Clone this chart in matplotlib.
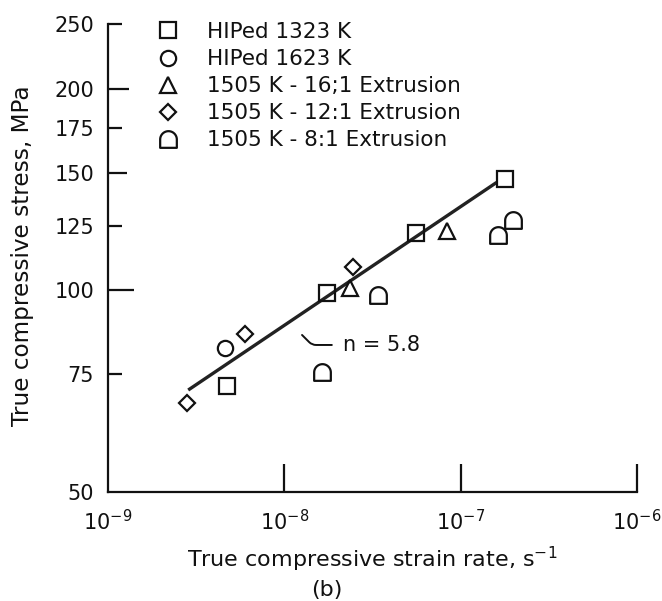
import numpy as np
import matplotlib
matplotlib.use('Agg')
import matplotlib.pyplot as plt
from matplotlib.path import Path
from matplotlib.ticker import FixedLocator, NullLocator

# data
hip1323_rate = [4.7e-9, 1.75e-8, 5.6e-8, 1.79e-7]
hip1323_stress = [72.0, 99.0, 122.0, 146.5]

hip1623_rate = [4.6e-9]
hip1623_stress = [82.0]

ext16_rate = [2.36e-8, 8.4e-8]
ext16_stress = [101.0, 122.5]

ext12_rate = [2.8e-9, 6.0e-9, 2.45e-8]
ext12_stress = [68.0, 86.0, 108.5]

ext8_rate = [1.64e-8, 3.4e-8, 1.63e-7, 1.98e-7]
ext8_stress = [75.5, 98.5, 121.0, 127.5]

fit_rate = [2.85e-9, 1.6e-7]
fit_stress = [71.0, 145.0]

ytick_vals = [50, 75, 100, 125, 150, 175, 200, 250]
xtick_vals = [1e-9, 1e-8, 1e-7, 1e-6]

plt.rcParams['font.family'] = 'DejaVu Sans'

# dome shaped marker for the 8:1 extrusion
th = np.linspace(np.pi, 0, 30)
dome_verts = [(-1, -1), (-1, 0)] + [(np.cos(t), np.sin(t)) for t in th] + [(1, -1), (-1, -1)]
dome = Path(dome_verts, closed=True)

fig = plt.figure(figsize=(6.62, 6.01), dpi=100)
ax = fig.add_axes([108/662, 109/601, 529/662, 468/601])

ink = '#111111'
mk = dict(linestyle='none', mfc='none', mec=ink, mew=1.6)

ax.plot(fit_rate, fit_stress, color='#222222', lw=2.4, solid_capstyle='butt', zorder=1)
ax.plot(hip1323_rate, hip1323_stress, marker='s', ms=11, label='HIPed 1323 K', **mk)
ax.plot(hip1623_rate, hip1623_stress, marker='o', ms=11, label='HIPed 1623 K', **mk)
ax.plot(ext16_rate, ext16_stress, marker='^', ms=11, label='1505 K - 16;1 Extrusion', **mk)
ax.plot(ext12_rate, ext12_stress, marker='D', ms=8.5, label='1505 K - 12:1 Extrusion', **mk)
ax.plot(ext8_rate, ext8_stress, marker=dome, ms=12, label='1505 K - 8:1 Extrusion', **mk)

ax.set_xscale('log')
ax.set_yscale('log')
ax.set_xlim(1e-9, 1e-6)
ax.set_ylim(50, 250)

ax.yaxis.set_major_locator(FixedLocator(ytick_vals))
ax.yaxis.set_minor_locator(NullLocator())
ax.set_yticklabels([str(v) for v in ytick_vals])
ax.xaxis.set_major_locator(FixedLocator(xtick_vals))
ax.xaxis.set_minor_locator(NullLocator())

ax.tick_params(axis='both', direction='in', width=1.6, color=ink, labelsize=15, labelcolor=ink)
ax.tick_params(axis='y', pad=10, length=10)
ax.tick_params(axis='x', pad=12, length=20)

ylens = {50: 0, 75: 10, 100: 19, 125: 10, 150: 14, 175: 10, 200: 15, 250: 10}
for v, t in zip(ytick_vals, ax.yaxis.get_major_ticks()):
    t.tick1line.set_markersize(ylens[v])
ax.xaxis.get_major_ticks()[0].tick1line.set_markersize(0)

for s in ['top', 'right']:
    ax.spines[s].set_visible(False)
for s in ['left', 'bottom']:
    ax.spines[s].set_linewidth(1.6)
    ax.spines[s].set_color(ink)

ax.set_xlabel('True compressive strain rate, s$^{-1}$', fontsize=16, color=ink)
ax.set_ylabel('True compressive stress, MPa', fontsize=16.7, color=ink)
ax.xaxis.set_label_coords(0.5, -0.113)
ax.yaxis.set_label_coords(-0.14, 0.505)

fig.text(327/662, 1 - 590/601, '(b)', fontsize=16, ha='center', va='center', color=ink)

ax.annotate('n = 5.8', xy=(1.26e-8, 85.8), xytext=(2.15e-8, 82.9),
            fontsize=15, ha='left', va='center', color=ink,
            arrowprops=dict(arrowstyle='-', color=ink, lw=1.4, relpos=(0, 0.5),
                            shrinkA=6, shrinkB=0,
                            connectionstyle='angle,angleA=0,angleB=135,rad=4'))

leg = ax.legend(loc='upper left', bbox_to_anchor=(157/662, 1 - 22/601),
                bbox_transform=fig.transFigure, frameon=False, fontsize=15.5,
                handlelength=1.0, handletextpad=1.3, labelspacing=0.33,
                borderpad=0, borderaxespad=0, numpoints=1)
for txt in leg.get_texts():
    txt.set_color(ink)

fig.savefig('out.png', dpi=100)
